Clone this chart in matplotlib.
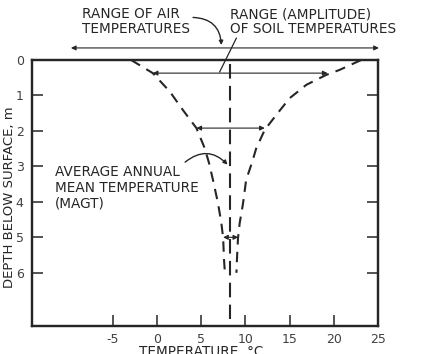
import numpy as np
import matplotlib
matplotlib.use("Agg")
import matplotlib.pyplot as plt

plt.rcParams["axes.unicode_minus"] = False

# depth (m) and temperature (C)
left_depth = [0.0, 0.37, 0.89, 1.41, 1.92, 2.49, 2.9, 3.38, 4.04, 4.6,
              5.02, 5.63, 6.0]
left_temp = [-2.9, -0.45, 1.47, 2.95, 4.48, 5.42, 5.9, 6.35, 6.92, 7.3,
             7.5, 7.6, 7.7]
right_depth = [0.0, 0.28, 0.42, 0.7, 1.08, 1.55, 1.97, 2.49, 2.9, 3.38,
               4.04, 4.6, 5.02, 5.63, 6.0]
right_temp = [23.1, 20.65, 19.15, 16.9, 15.0, 13.5, 12.2, 11.24, 10.75,
              10.1, 9.75, 9.37, 9.18, 9.06, 9.0]

magt = 8.25
magt_depth = (0.1, 7.3)

# double arrows: (depth, t_min, t_max)
air_range = (-0.34, -9.7, 25.1)
soil_ranges = [(0.37, -0.45, 19.3), (1.92, 4.48, 12.2), (5.0, 7.5, 9.2)]

x_ticks = [-5, 0, 5, 10, 15, 20, 25]
y_ticks = [0, 1, 2, 3, 4, 5, 6]

ink = "#262626"
W, H = 422, 354

fig = plt.figure(figsize=(W / 100, H / 100), dpi=100)
ax = fig.add_axes([32 / W, 1 - 326 / H, 346 / W, 266 / H])

ax.set_xlim(-14.1, 25)
ax.set_ylim(7.5, 0)

ax.plot(left_temp, left_depth, color=ink, lw=1.5, dashes=(5, 3.5))
ax.plot(right_temp, right_depth, color=ink, lw=1.5, dashes=(5, 3.5))
ax.plot([magt, magt], magt_depth, color=ink, lw=1.5, dashes=(7, 3.5))

arr = dict(arrowstyle="<|-|>", mutation_scale=7, lw=0.8, color=ink,
           shrinkA=0, shrinkB=0)
d, a, b = air_range
ax.annotate("", xy=(b, d), xytext=(a, d), arrowprops=arr,
            annotation_clip=False)
for d, a, b in soil_ranges:
    ax.annotate("", xy=(b, d), xytext=(a, d), arrowprops=arr)

# leader lines
ax.annotate("", xy=(7.3, -0.42), xytext=(4.1, -1.2), annotation_clip=False,
            arrowprops=dict(arrowstyle="-|>", mutation_scale=6, lw=1.0,
                            color=ink, shrinkA=0, shrinkB=0,
                            connectionstyle="arc3,rad=-0.45"))
ax.annotate("", xy=(7.1, 0.34), xytext=(9.0, -0.62), annotation_clip=False,
            arrowprops=dict(arrowstyle="-", lw=0.9, color=ink,
                            shrinkA=0, shrinkB=0))
ax.annotate("", xy=(8.0, 2.95), xytext=(3.2, 2.88),
            arrowprops=dict(arrowstyle="-|>", mutation_scale=6, lw=1.0,
                            color=ink, shrinkA=0, shrinkB=0,
                            connectionstyle="arc3,rad=-0.45"))

txt = dict(fontsize=9.8, color=ink, linespacing=1.05, va="top", ha="left")
fig.text(82 / W, 1 - 7 / H, "RANGE OF AIR\nTEMPERATURES", **txt)
fig.text(230 / W, 1 - 7 / H, "RANGE (AMPLITUDE)\nOF SOIL TEMPERATURES", **txt)
txt["linespacing"] = 1.15
fig.text(55 / W, 1 - 165 / H, "AVERAGE ANNUAL\nMEAN TEMPERATURE\n(MAGT)", **txt)

fig.text(10 / W, 1 - 197 / H, "DEPTH BELOW SURFACE, m", rotation=90,
         fontsize=9.5, color=ink, ha="center", va="center")
fig.text(201 / W, 1 - 345 / H, "TEMPERATURE, \u00b0C", fontsize=9.8,
         color=ink, ha="center", va="top")

for s in ax.spines.values():
    s.set_linewidth(1.6)
    s.set_color(ink)

ax.set_xticks(x_ticks)
ax.set_yticks(y_ticks)
ax.tick_params(direction="in", length=8, width=1.1, color=ink,
               labelsize=9, labelcolor="#404040")
ax.tick_params(axis="y", pad=6)
ax.tick_params(axis="x", pad=5)

# right side ticks without labels
ax2 = ax.twinx()
ax2.set_ylim(ax.get_ylim())
ax2.set_yticks(y_ticks[1:])
ax2.tick_params(direction="in", length=8, width=1.1, color=ink,
                labelright=False)
for s in ax2.spines.values():
    s.set_linewidth(1.6)
    s.set_color(ink)

fig.savefig("out.png", dpi=100)
